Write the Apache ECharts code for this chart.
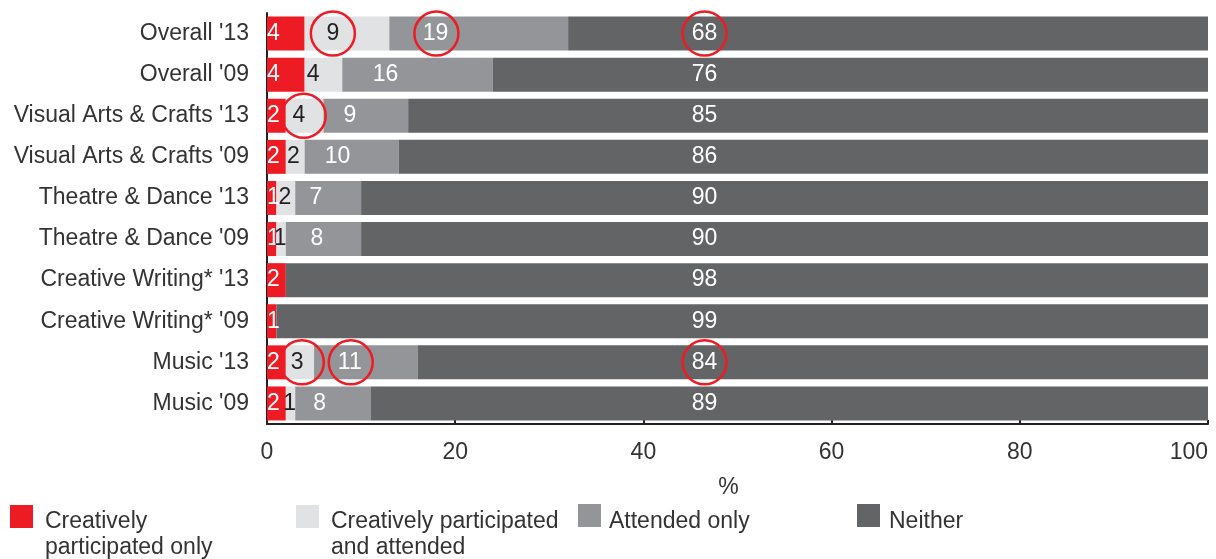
<!DOCTYPE html>
<html>
<head>
<meta charset="utf-8">
<script src="https://cdn.jsdelivr.net/npm/echarts@6/dist/echarts.min.js"></script>
<style>
  html, body { margin: 0; padding: 0; background: #fff; }
  #chart { width: 1216px; height: 559px; }
</style>
</head>
<body>
<div id="chart"></div>
<script>
// Arts engagement by art form, 2009 vs 2013 (% of respondents)
const categories = [
  "Overall '13", "Overall '09",
  "Visual Arts & Crafts '13", "Visual Arts & Crafts '09",
  "Theatre & Dance '13", "Theatre & Dance '09",
  "Creative Writing* '13", "Creative Writing* '09",
  "Music '13", "Music '09"
];
const creativeOnly = [4, 4, 2, 2, 1, 1, 2, 1, 2, 2];
const creativeAndAttended = [9, 4, 4, 2, 2, 1, 0, 0, 3, 1];
const attendedOnly = [19, 16, 9, 10, 7, 8, 0, 0, 11, 8];
const neither = [68, 76, 85, 86, 90, 90, 98, 99, 84, 89];
const xTicks = [0, 20, 40, 60, 80, 100];

const seriesNames = [
  'Creatively participated only',
  'Creatively participated and attended',
  'Attended only',
  'Neither'
];
const legendLines = {
  'Creatively participated only': ['Creatively', 'participated only'],
  'Creatively participated and attended': ['Creatively participated', 'and attended'],
  'Attended only': ['Attended only'],
  'Neither': ['Neither']
};
const colors = ['#ED1C24', '#E1E2E3', '#939598', '#636466'];

// Where each value label sits along the bar (in axis units)
const lightLabelAt = [7.0, 4.9, 3.4, 2.8, 1.9, 1.4, null, null, 3.2, 2.4];
const midLabelAt = [17.9, 12.6, 8.8, 7.5, 5.2, 5.3, null, null, 8.8, 5.6];
const neitherLabelAt = 46.5;

// Highlighted values: [row, centre in axis units]
const highlights = [[0, 7.0], [0, 18.0], [0, 46.5], [2, 3.9], [8, 3.7], [8, 8.9], [8, 46.5]];

const FONT = "'Liberation Sans', Arial, Helvetica, sans-serif";
const FS = 23;
const TEXT = '#333333';

const valueLabels = [];
function addLabels(values, at, color) {
  values.forEach((v, i) => {
    const x = Array.isArray(at) ? at[i] : at;
    if (v > 0 && x != null) {
      valueLabels.push({
        value: [x, categories[i]],
        label: { formatter: String(v), color: color }
      });
    }
  });
}
addLabels(creativeAndAttended, lightLabelAt, '#231F20');
addLabels(attendedOnly, midLabelAt, '#FFFFFF');
addLabels(neither, neitherLabelAt, '#FFFFFF');

const barValues = [creativeOnly, creativeAndAttended, attendedOnly, neither];
const barSeries = seriesNames.map((name, k) => ({
  name: name,
  type: 'bar',
  stack: 'total',
  barWidth: 34,
  itemStyle: { color: colors[k] },
  label: k === 0 ? {
    show: true,
    position: 'insideLeft',
    distance: 0,
    color: '#FFFFFF',
    fontFamily: FONT,
    fontSize: FS,
    formatter: p => (p.value > 0 ? String(p.value) : '')
  } : { show: false },
  emphasis: { disabled: true },
  data: barValues[k]
}));

// One legend block per series so each can sit at its own column.
// A spacer line above the text drops the first line level with the swatch.
function legendAt(name, left, top, spacer, indent) {
  const lines = legendLines[name];
  const txt = { fontFamily: FONT, fontSize: FS, color: TEXT, lineHeight: 26 };
  return {
    data: [{ name: name, icon: 'rect' }],
    left: left,
    top: top,
    orient: 'horizontal',
    itemWidth: 23,
    itemHeight: 23,
    padding: 0,
    selectedMode: false,
    formatter: () => '{gap| }\n' + lines.map(l => '{ind| }{t|' + l + '}').join('\n'),
    textStyle: {
      fontFamily: FONT,
      fontSize: FS,
      color: TEXT,
      rich: {
        gap: { fontSize: 4, lineHeight: spacer },
        ind: { fontSize: 4, width: indent, lineHeight: 26 },
        t: txt
      }
    }
  };
}

const chart = echarts.init(document.getElementById('chart'), null, { renderer: 'canvas' });
chart.setOption({
  animation: false,
  backgroundColor: '#FFFFFF',
  grid: {
    left: 267, right: 8, top: 13, bottom: 135,
    containLabel: false,
    outerBoundsMode: 'none'
  },
  legend: [
    legendAt(seriesNames[0], 10, 488.5, 36, 7),
    legendAt(seriesNames[1], 296, 488.5, 36, 7),
    legendAt(seriesNames[2], 578, 500.5, 12, 3),
    legendAt(seriesNames[3], 857, 500.5, 12, 4)
  ],
  xAxis: {
    type: 'value',
    min: xTicks[0],
    max: xTicks[xTicks.length - 1],
    interval: xTicks[1] - xTicks[0],
    name: '%',
    nameLocation: 'middle',
    nameGap: 52,
    nameTextStyle: { fontFamily: FONT, fontSize: FS, color: TEXT, padding: [0, 18, 0, 0] },
    axisLine: { show: true, lineStyle: { color: '#231F20', width: 2 } },
    axisTick: { show: true, inside: true, length: 4, lineStyle: { color: '#231F20', width: 2 } },
    splitLine: { show: false },
    axisLabel: {
      fontFamily: FONT, fontSize: FS, color: TEXT, margin: 17,
      alignMaxLabel: 'right'
    }
  },
  yAxis: {
    type: 'category',
    inverse: true,
    data: categories,
    axisLine: { show: true, lineStyle: { color: '#231F20', width: 2 } },
    axisTick: { show: false },
    axisLabel: { fontFamily: FONT, fontSize: FS, color: TEXT, margin: 18 }
  },
  series: barSeries.concat([
    {
      name: 'values',
      type: 'scatter',
      symbolSize: 1,
      silent: true,
      z: 5,
      itemStyle: { color: 'rgba(0,0,0,0)', opacity: 1 },
      label: { show: true, position: 'inside', fontFamily: FONT, fontSize: FS, opacity: 1 },
      data: valueLabels
    },
    {
      name: 'highlights',
      type: 'scatter',
      symbol: 'circle',
      symbolSize: 44,
      silent: true,
      z: 6,
      itemStyle: { color: 'rgba(0,0,0,0)', borderColor: '#ED1C24', borderWidth: 2.5, opacity: 1 },
      data: highlights.map(h => [h[1], categories[h[0]]])
    }
  ])
});
</script>
</body>
</html>
